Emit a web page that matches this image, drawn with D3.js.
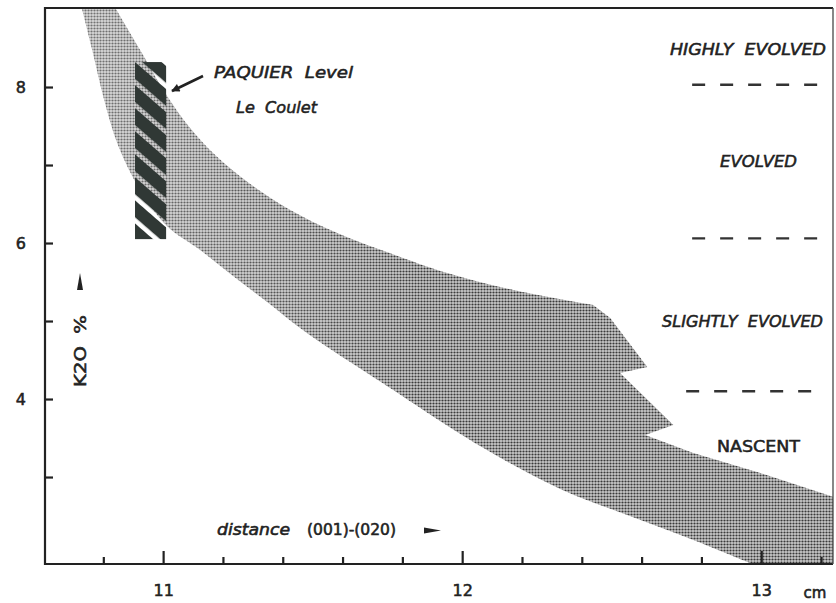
<!DOCTYPE html>
<html>
<head>
<meta charset="utf-8">
<script src="https://cdn.jsdelivr.net/npm/d3@7/dist/d3.min.js"></script>
<style>
  html, body { margin: 0; padding: 0; background: #fff; }
  svg { display: block; }
  text { font-family: "DejaVu Sans", Verdana, sans-serif; fill: #222; }
</style>
</head>
<body>
<svg id="chart" width="836" height="603"></svg>
<script>
// K2O content (%) of the illite fraction against the (001)-(020) spacing (cm).

// Upper (right) edge of the shaded field, smooth part
const bandUpperX = [10.826, 10.923, 11.013, 11.090, 11.174, 11.291, 11.425, 11.582, 11.793, 11.950, 12.171, 12.438];
const bandUpperY = [9.103, 8.474, 7.885, 7.474, 7.128, 6.756, 6.423, 6.128, 5.821, 5.615, 5.397, 5.205];
// Stepped (notched) continuation of the upper edge
const bandStepX = [12.495, 12.619, 12.528, 12.706, 12.612, 12.773, 12.997, 13.264];
const bandStepY = [5.038, 4.410, 4.333, 3.667, 3.538, 3.308, 3.051, 2.718];
// Lower (left) edge of the shaded field, from right to left
const bandLowerX = [13.264, 12.963, 12.773, 12.552, 12.328, 12.060, 11.759, 11.682, 11.569, 11.458, 11.348, 11.234, 11.124, 11.013, 10.923, 10.849, 10.803, 10.763, 10.722];
const bandLowerY = [1.449, 1.897, 2.192, 2.513, 2.846, 3.397, 4.141, 4.333, 4.615, 4.910, 5.244, 5.577, 5.910, 6.218, 6.679, 7.256, 7.833, 8.474, 9.103];

// Paquier level, Le Coulet: range of spacing and K2O
const paquierX = [10.906, 11.010];
const paquierY = [6.05, 8.32];

// Boundaries between evolution stages (K2O %) and their names
const stageBounds = [8.03, 6.06, 4.10];
const stageNames = ["HIGHLY  EVOLVED", "EVOLVED", "SLIGHTLY  EVOLVED", "NASCENT"];

// Axis ticks
const xMajor = [11, 12, 13];
const xMinor = [10.8, 11.2, 11.4, 11.6, 11.8, 12.2, 12.4, 12.6, 12.8, 13.2];
const yTicks = [3, 4, 5, 6, 7, 8];
const yLabels = [4, 6, 8];

const svg = d3.select("#chart");
const L = 45, R = 833, T = 8, B = 564;

const x = d3.scaleLinear().domain([10.605, 13.24]).range([L, R]);
const y = d3.scaleLinear().domain([1.885, 9.013]).range([B, T]);

const defs = svg.append("defs");

// halftone screen of the shaded field
const dots = defs.append("pattern")
  .attr("id", "halftone").attr("patternUnits", "userSpaceOnUse")
  .attr("width", 3).attr("height", 3);
dots.append("rect").attr("width", 3).attr("height", 3).attr("fill", "#cbcbcb");
dots.append("circle").attr("cx", 1.5).attr("cy", 1.5).attr("r", 1.12).attr("fill", "#3a3a3a");

// lighter print towards the upper left
const shade = defs.append("linearGradient")
  .attr("id", "shade").attr("gradientUnits", "userSpaceOnUse")
  .attr("x1", 80).attr("y1", 0).attr("x2", 420).attr("y2", 0);
shade.append("stop").attr("offset", 0).attr("stop-color", "#fff").attr("stop-opacity", 0.3);
shade.append("stop").attr("offset", 1).attr("stop-color", "#fff").attr("stop-opacity", 0);

// diagonal hatching of the Paquier bar (gaps are transparent)
const hatch = defs.append("pattern")
  .attr("id", "hatch").attr("patternUnits", "userSpaceOnUse")
  .attr("width", 17.4).attr("height", 17.4)
  .attr("patternTransform", `translate(${x(paquierX[0])},${y(paquierY[1])}) rotate(-49)`);
hatch.append("rect").attr("x", 4.6).attr("y", 0).attr("width", 12.8).attr("height", 17.4).attr("fill", "#303835");

defs.append("clipPath").attr("id", "plot")
  .append("rect").attr("x", L).attr("y", T).attr("width", R - L).attr("height", B - T);

defs.append("marker").attr("id", "arrowhead")
  .attr("viewBox", "0 0 10 10").attr("refX", 9).attr("refY", 5)
  .attr("markerWidth", 4.2).attr("markerHeight", 3.2).attr("orient", "auto")
  .attr("markerUnits", "strokeWidth")
  .append("path").attr("d", "M0,0 L10,5 L0,10 Z").attr("fill", "#222");

// ---- shaded field ----
const pts = (xs, ys) => xs.map((v, i) => [v, ys[i]]);
const smooth = d3.line().x(d => x(d[0])).y(d => y(d[1])).curve(d3.curveCatmullRom.alpha(0.5));
const straight = d3.line().x(d => x(d[0])).y(d => y(d[1]));

const bandPath = smooth(pts(bandUpperX, bandUpperY))
  + straight(pts(bandStepX, bandStepY)).replace(/^M/, "L")
  + smooth(pts(bandLowerX, bandLowerY)).replace(/^M/, "L") + "Z";

const field = svg.append("g").attr("clip-path", "url(#plot)");
field.append("path").attr("d", bandPath).attr("fill", "url(#halftone)");
field.append("path").attr("d", bandPath).attr("fill", "url(#shade)");

// ---- Paquier bar ----
svg.append("rect")
  .attr("x", x(paquierX[0])).attr("y", y(paquierY[1]))
  .attr("width", x(paquierX[1]) - x(paquierX[0]))
  .attr("height", y(paquierY[0]) - y(paquierY[1]))
  .attr("fill", "url(#hatch)");

// pointer and caption
svg.append("line")
  .attr("x1", 203).attr("y1", 76).attr("x2", 172).attr("y2", 91)
  .attr("stroke", "#222").attr("stroke-width", 2.6)
  .attr("marker-end", "url(#arrowhead)");

function label(txt, xPos, yPos, opts) {
  const t = svg.append("text").attr("x", xPos).attr("y", yPos)
    .attr("font-size", opts.size || 16)
    .attr("font-style", opts.italic ? "italic" : "normal")
    .attr("text-anchor", opts.anchor || "start")
    .attr("stroke", "#222").attr("stroke-width", 0.55)
    .attr("xml:space", "preserve")
    .text(txt);
  if (opts.len) t.attr("textLength", opts.len).attr("lengthAdjust", "spacingAndGlyphs");
  return t;
}

label("PAQUIER  Level", 214, 78, { italic: true, len: 139, size: 16 });
label("Le  Coulet", 236, 113, { italic: true, len: 81, size: 16 });

// ---- stage boundaries and names ----
const dashSpan = [[12.769, 13.187], [12.769, 13.187], [12.749, 13.171]];
svg.append("g").selectAll("line").data(stageBounds).join("line")
  .attr("x1", (d, i) => x(dashSpan[i][0])).attr("x2", (d, i) => x(dashSpan[i][1]))
  .attr("y1", d => y(d)).attr("y2", d => y(d))
  .attr("stroke", "#333").attr("stroke-width", 2.4)
  .attr("stroke-dasharray", "13 15");

const stageLayout = [
  { x: 670, y: 55, len: 156 },
  { x: 720, y: 167, len: 77 },
  { x: 662, y: 327, len: 161 },
  { x: 717, y: 452, len: 83 }
];
stageNames.forEach((name, i) => {
  const p = stageLayout[i];
  label(name, p.x, p.y, { italic: i !== 3, len: p.len, size: 16 });
});

// ---- axes ----
const xAxisMajor = d3.axisBottom(x).tickValues(xMajor).tickSize(-13).tickPadding(21)
  .tickFormat(d3.format("d"));
const xAxisMinor = d3.axisBottom(x).tickValues(xMinor).tickSize(-7).tickFormat("");
const yAxis = d3.axisLeft(y).tickValues(yTicks).tickSize(-8).tickPadding(19)
  .tickFormat(d => yLabels.includes(d) ? d : "");

function styleAxis(g) {
  g.select(".domain").remove();
  g.selectAll(".tick line").attr("stroke", "#222").attr("stroke-width", 2.2);
  g.selectAll(".tick text").attr("fill", "#222").attr("font-size", 16)
    .attr("font-family", "'DejaVu Sans', sans-serif")
    .attr("stroke", "#222").attr("stroke-width", 0.55);
}
svg.append("g").attr("transform", `translate(0,${B})`).call(xAxisMinor).call(styleAxis);
svg.append("g").attr("transform", `translate(0,${B})`).call(xAxisMajor).call(styleAxis);
svg.append("g").attr("transform", `translate(${L},0)`).call(yAxis).call(styleAxis);

// frame
svg.append("path")
  .attr("d", `M${R},${T} L${L},${T} L${L},${B} L${R},${B}`)
  .attr("fill", "none").attr("stroke", "#222").attr("stroke-width", 2.2);
svg.append("line").attr("x1", R).attr("x2", R).attr("y1", T).attr("y2", B)
  .attr("stroke", "#555").attr("stroke-width", 1.4);

// unit
label("cm", 815, 598, { anchor: "middle", size: 15 });

// x-axis caption with arrow
label("distance", 217, 535, { italic: true, len: 73, size: 15 });
label("(001)-(020)", 307, 535, { len: 89, size: 15 });
svg.append("path").attr("d", "M424,527.5 L441,530.5 L424,533.5 Z").attr("fill", "#222");

// y-axis caption with arrow
svg.append("text")
  .attr("transform", "translate(86,351) rotate(-90)")
  .attr("text-anchor", "middle")
  .attr("font-size", 16)
  .attr("stroke", "#222").attr("stroke-width", 0.55)
  .attr("xml:space", "preserve")
  .attr("textLength", 72).attr("lengthAdjust", "spacingAndGlyphs")
  .text("K2O  %");
svg.append("path").attr("d", "M80,273 L83,290 L77,290 Z").attr("fill", "#222");
</script>
</body>
</html>
